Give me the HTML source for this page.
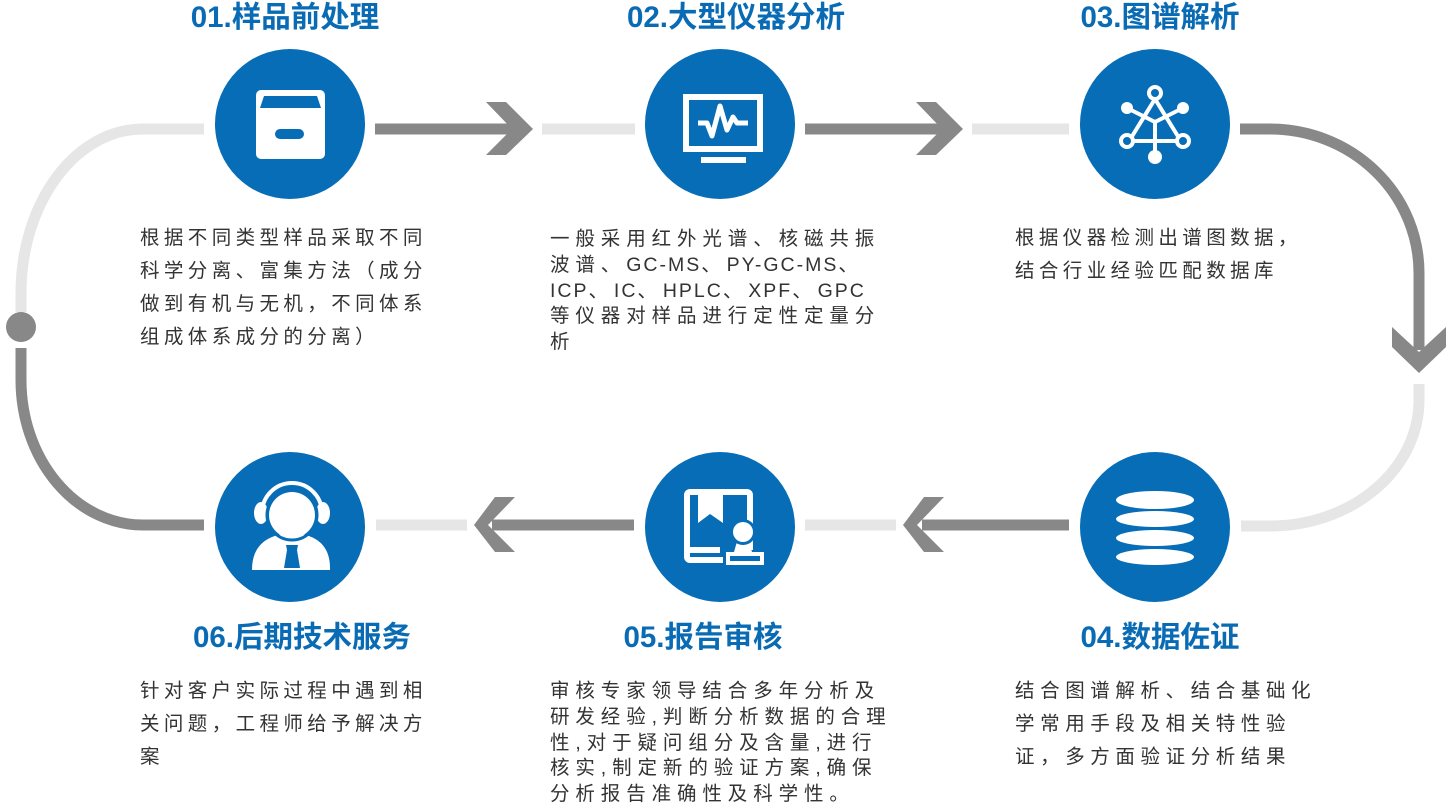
<!DOCTYPE html>
<html><head><meta charset="utf-8"><style>
html,body{margin:0;padding:0;background:#fff;}
body{width:1446px;height:806px;position:relative;overflow:hidden;font-family:"Liberation Sans","Noto Sans CJK SC",sans-serif;}
svg{position:absolute;left:0;top:0;}
.t{position:absolute;font-weight:bold;font-size:29.5px;color:#0a6bb5;white-space:nowrap;text-align:center;width:300px;line-height:34px;}
.p{position:absolute;font-size:19.5px;color:#333;white-space:pre;letter-spacing:4.4px;line-height:33px;}
.p2{letter-spacing:5.9px;line-height:25.8px;}
.l{letter-spacing:2px;}
</style></head><body>
<svg width="1446" height="806" viewBox="0 0 1446 806">
<g fill="none" stroke-width="11">
<path d="M204 129 L143 129 A122 164 0 0 0 21 293 L21 312" stroke="#e6e6e6"/>
<path d="M21 348 L21 380 A122 145 0 0 0 143 525 L204 525" stroke="#888"/>
<path d="M1240 129 L1270 129 A149 144 0 0 1 1419 273 L1419 350" stroke="#888"/>
<path d="M1419 384 L1419 400 A149 126 0 0 1 1270 526 L1241 526" stroke="#e6e6e6"/>
<line x1="375" y1="129" x2="515" y2="129" stroke="#888"/>
<line x1="542" y1="129" x2="635" y2="129" stroke="#e6e6e6"/>
<line x1="805" y1="129" x2="945" y2="129" stroke="#888"/>
<line x1="972" y1="129" x2="1069" y2="129" stroke="#e6e6e6"/>
<line x1="376" y1="525" x2="467" y2="525" stroke="#e6e6e6"/>
<line x1="492" y1="525" x2="634" y2="525" stroke="#888"/>
<line x1="805" y1="525" x2="896" y2="525" stroke="#e6e6e6"/>
<line x1="922" y1="525" x2="1069" y2="525" stroke="#888"/>
</g>
<circle cx="21" cy="327" r="15" fill="#888"/>
<g fill="#888">
<polygon points="486,102 506,102 533,129 506,155 486,155 512,129"/>
<polygon points="916,102 936,102 963,129 936,155 916,155 942,129"/>
<polygon points="495,497 515,497 488,525 515,552 495,552 474,525"/>
<polygon points="924,497 944,497 917,525 944,552 924,552 903,525"/>
<polygon points="1392,327 1392,347 1419,373 1446,347 1446,327 1419,352"/>
</g>
<g fill="#066db6">
<circle cx="290" cy="124" r="75"/>
<circle cx="720" cy="124" r="75"/>
<circle cx="1155" cy="124" r="75"/>
<circle cx="290" cy="527" r="75"/>
<circle cx="720" cy="527" r="75"/>
<circle cx="1155" cy="527" r="75"/>
</g>
<rect x="256" y="90" width="69" height="69" rx="5" fill="#fff"/>
<polygon points="264,96 317,96 321,108 260,108" fill="#066db6"/>
<rect x="275" y="129" width="29" height="10" rx="5" fill="#066db6"/>
<rect x="686" y="97" width="74" height="52" fill="none" stroke="#fff" stroke-width="6"/>
<rect x="701" y="157" width="45" height="6" fill="#fff"/>
<polyline points="698,123 707,123 712,136 720,106 727,130 733,117 737,123 748,123" fill="none" stroke="#fff" stroke-width="5" stroke-linejoin="round"/>
<g stroke="#fff" stroke-width="4" fill="none">
<line x1="1155" y1="99" x2="1131" y2="138"/>
<line x1="1155" y1="99" x2="1179" y2="138"/>
<line x1="1133" y1="141" x2="1177" y2="141"/>
<line x1="1127" y1="108" x2="1155" y2="122"/>
<line x1="1183" y1="108" x2="1155" y2="122"/>
<line x1="1155" y1="122" x2="1155" y2="157"/>
<circle cx="1155" cy="93" r="6"/>
<circle cx="1127" cy="141" r="6"/>
<circle cx="1183" cy="141" r="6"/>
</g>
<g fill="#fff"><circle cx="1127" cy="108" r="6"/><circle cx="1183" cy="108" r="6"/><circle cx="1155" cy="157" r="7"/></g>
<g fill="#fff">
<ellipse cx="1155" cy="500" rx="39" ry="9"/>
<ellipse cx="1155" cy="519" rx="39" ry="8"/>
<ellipse cx="1155" cy="538" rx="39" ry="8"/>
<ellipse cx="1155" cy="557" rx="39" ry="8"/>
</g>
<rect x="687" y="492" width="63" height="68" rx="3" fill="none" stroke="#fff" stroke-width="6"/>
<polygon points="698,495 723,495 723,523 710,514 698,523" fill="#fff"/>
<rect x="687" y="547" width="33" height="6" fill="#fff"/>
<rect x="723" y="550" width="42" height="15" fill="#066db6"/>
<rect x="728" y="554" width="34" height="9" fill="none" stroke="#fff" stroke-width="4"/>
<polygon points="738,538 748,538 752,552 734,552" fill="#fff"/>
<circle cx="743" cy="532" r="13" fill="#066db6"/>
<circle cx="743" cy="532" r="10" fill="#fff"/>
<path d="M262 513 A30 30 0 0 1 322 513" fill="none" stroke="#fff" stroke-width="4"/>
<ellipse cx="261" cy="513" rx="7" ry="11" fill="#fff"/>
<ellipse cx="323" cy="513" rx="7" ry="11" fill="#fff"/>
<circle cx="292" cy="515" r="23" fill="#fff"/>
<path d="M252 570 Q252 535 292 533 Q331 535 330 570 Z" fill="#fff"/>
<circle cx="292" cy="515" r="25" fill="none" stroke="#066db6" stroke-width="3"/>
<polygon points="286,545 298,545 297,550 300,568 284,568 287,550" fill="#066db6"/>
</svg>

<div class="t" style="left:135px;top:1px;">01.样品前处理</div>
<div class="t" style="left:586px;top:1px;">02.大型仪器分析</div>
<div class="t" style="left:1010px;top:1px;">03.图谱解析</div>
<div class="t" style="left:152px;top:621px;">06.后期技术服务</div>
<div class="t" style="left:553px;top:621px;">05.报告审核</div>
<div class="t" style="left:1010px;top:621px;">04.数据佐证</div>

<div class="p" style="left:140px;top:222px;">根据不同类型样品采取不同
科学分离、富集方法（成分
做到有机与无机，不同体系
组成体系成分的分离）</div>
<div class="p p2" style="left:550px;top:227px;">一般采用红外光谱、核磁共振
波谱、<span class="l">GC-MS</span>、<span class="l">PY-GC-MS</span>、
<span class="l">ICP</span>、<span class="l">IC</span>、<span class="l">HPLC</span>、<span class="l">XPF</span>、<span class="l">GPC</span>
等仪器对样品进行定性定量分
析</div>
<div class="p" style="left:1015px;top:222px;">根据仪器检测出谱图数据，
结合行业经验匹配数据库</div>
<div class="p" style="left:140px;top:675px;">针对客户实际过程中遇到相
关问题，工程师给予解决方
案</div>
<div class="p p2" style="left:550px;top:679px;">审核专家领导结合多年分析及
研发经验,判断分析数据的合理
性,对于疑问组分及含量,进行
核实,制定新的验证方案,确保
分析报告准确性及科学性。</div>
<div class="p" style="left:1015px;top:675px;letter-spacing:5.6px;">结合图谱解析、结合基础化
学常用手段及相关特性验
证，多方面验证分析结果</div>
</body></html>
